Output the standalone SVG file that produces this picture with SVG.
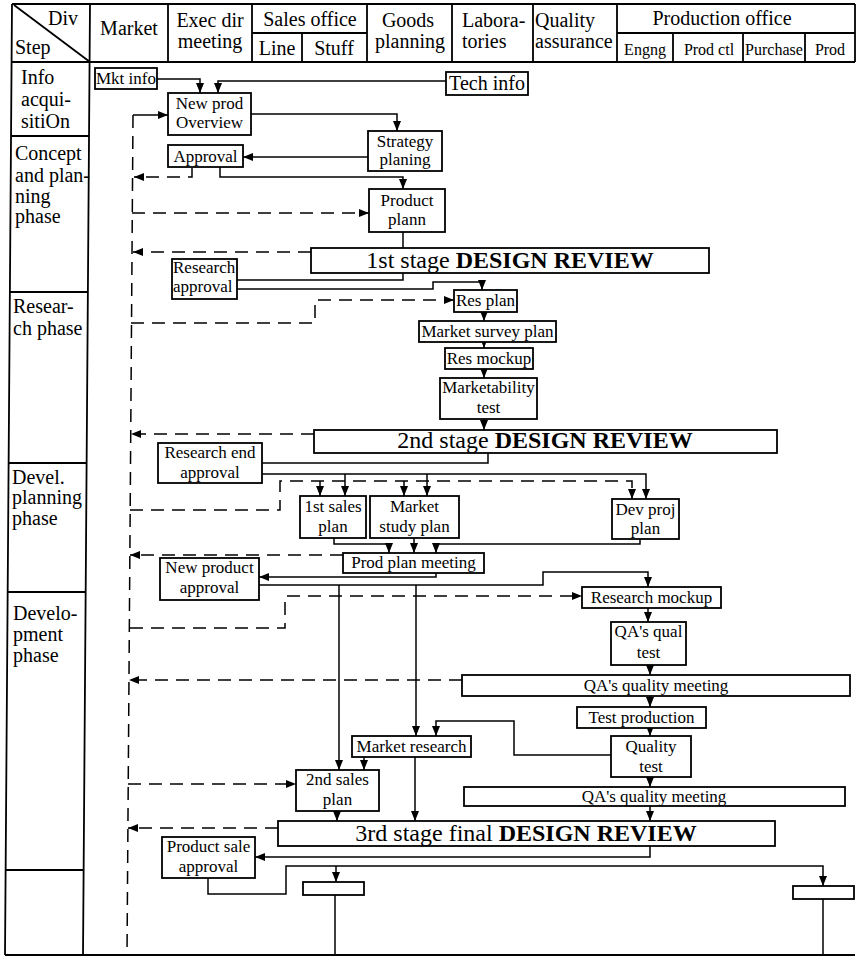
<svg xmlns="http://www.w3.org/2000/svg" width="857" height="959" viewBox="0 0 857 959">
<defs>
<style>
.frame{fill:none;stroke:#000;stroke-width:1.8}
.box{fill:#fff;stroke:#000;stroke-width:1.8}
.ln{fill:none;stroke:#000;stroke-width:1.5}
.ds{fill:none;stroke:#000;stroke-width:1.5;stroke-dasharray:13 8}
text{font-family:"Liberation Serif","Times New Roman",serif;fill:#000}
.h{font-size:20px}
.hs{font-size:16px}
.t{font-size:17px}
.c{text-anchor:middle}
.dr{font-size:24px;text-anchor:middle}
.b{font-weight:bold}
</style>
<marker id="ar" markerUnits="userSpaceOnUse" markerWidth="10" markerHeight="8" refX="10" refY="4" orient="auto">
<path d="M0,0 L10,4 L0,8 z" fill="#000"/>
</marker>
</defs>
<rect x="0" y="0" width="857" height="959" fill="#fff"/>

<g id="table">
<path class="frame" d="M12,4 H855 M12,62 H855 M12,4 L5,955 M90,4 L83,955 M5,955 H855 M14,5 L90,62"/>
<path class="frame" d="M168,4 V62 M252,4 V62 M367,4 V62 M452,4 V62 M533,4 V62 M617,4 V62 M855,4 V62 M252,33 H367 M617,33 H855 M302,33 V62 M673,33 V62 M743,33 V62 M805,33 V62"/>
<path class="frame" d="M11,136 H89 M9.9,292 H87.9 M8.6,463 H86.6 M7.7,592 H85.7 M5.6,870 H83.6"/>
<text class="h" x="48" y="25">Div</text>
<text class="h" x="15" y="54">Step</text>
<text class="h c" x="129" y="35">Market</text>
<text class="h c" x="210" y="27">Exec dir</text>
<text class="h c" x="210" y="48">meeting</text>
<text class="h c" x="310" y="26">Sales office</text>
<text class="h c" x="277" y="55">Line</text>
<text class="h c" x="334" y="55">Stuff</text>
<text class="h c" x="408" y="27">Goods</text>
<text class="h c" x="410" y="48">planning</text>
<text class="h" x="462" y="27">Labora-</text>
<text class="h" x="462" y="48">tories</text>
<text class="h" x="535" y="27">Quality</text>
<text class="h" x="535" y="48">assurance</text>
<text class="h c" x="722" y="25">Production office</text>
<text class="hs c" x="645" y="55">Engng</text>
<text class="hs c" x="709" y="55">Prod ctl</text>
<text class="hs c" x="774" y="55">Purchase</text>
<text class="hs c" x="830" y="55">Prod</text>
<text class="h" x="21" y="84">Info</text>
<text class="h" x="21" y="106">acqui-</text>
<text class="h" x="21" y="128">sitiOn</text>
<text class="h" x="15" y="160">Concept</text>
<text class="h" x="15" y="182">and plan-</text>
<text class="h" x="15" y="203">ning</text>
<text class="h" x="15" y="223">phase</text>
<text class="h" x="13" y="313">Resear-</text>
<text class="h" x="13" y="335">ch phase</text>
<text class="h" x="12" y="484">Devel.</text>
<text class="h" x="12" y="504">planning</text>
<text class="h" x="12" y="525">phase</text>
<text class="h" x="13" y="620">Develo-</text>
<text class="h" x="13" y="641">pment</text>
<text class="h" x="13" y="662">phase</text>
</g>

<g id="connectors">
<path class="ds" d="M133,115 L127,955"/>
<path class="ln" marker-end="url(#ar)" d="M157,79 H200 V93"/>
<path class="ln" marker-end="url(#ar)" d="M446,81 H218 V93"/>
<path class="ln" marker-end="url(#ar)" d="M251,114 H397 V131"/>
<path class="ln" marker-end="url(#ar)" d="M368,157 H243"/>
<path class="ln" marker-end="url(#ar)" d="M220,167 V177 H403 V189"/>
<path class="ln" d="M403,232 V248"/>
<path class="ln" marker-end="url(#ar)" d="M133,115 H168"/>
<path class="ln" d="M403,273 V280 H237"/>
<path class="ln" marker-end="url(#ar)" d="M237,289 H433 V282 H482 V290"/>
<path class="ln" marker-end="url(#ar)" d="M484,312 V321"/>
<path class="ln" marker-end="url(#ar)" d="M484,342 V348"/>
<path class="ln" marker-end="url(#ar)" d="M484,369 V378"/>
<path class="ln" marker-end="url(#ar)" d="M484,419 V430"/>
<path class="ln" d="M488,453 V463 H262"/>
<path class="ln" marker-end="url(#ar)" d="M262,474 H646 V499"/>
<path class="ln" marker-end="url(#ar)" d="M345,474 V496"/>
<path class="ln" marker-end="url(#ar)" d="M427,474 V496"/>
<path class="ln" marker-end="url(#ar)" d="M334,538 V544 H389 V553"/>
<path class="ln" marker-end="url(#ar)" d="M414,538 V553"/>
<path class="ln" marker-end="url(#ar)" d="M640,539 V544 H436 V553"/>
<path class="ln" marker-end="url(#ar)" d="M436,573 V577 H259"/>
<path class="ln" marker-end="url(#ar)" d="M259,585 H543 V572 H648 V587"/>
<path class="ln" marker-end="url(#ar)" d="M339,585 V770"/>
<path class="ln" marker-end="url(#ar)" d="M416,585 V736"/>
<path class="ln" marker-end="url(#ar)" d="M648,608 V622"/>
<path class="ln" marker-end="url(#ar)" d="M650,665 V675"/>
<path class="ln" marker-end="url(#ar)" d="M650,696 V707"/>
<path class="ln" marker-end="url(#ar)" d="M650,728 V736"/>
<path class="ln" marker-end="url(#ar)" d="M611,755 H514 V721 H436 V736"/>
<path class="ln" marker-end="url(#ar)" d="M364,757 V770"/>
<path class="ln" marker-end="url(#ar)" d="M415,757 V821"/>
<path class="ln" marker-end="url(#ar)" d="M650,777 V787"/>
<path class="ln" marker-end="url(#ar)" d="M650,806 V821"/>
<path class="ln" marker-end="url(#ar)" d="M337,811 V821"/>
<path class="ln" marker-end="url(#ar)" d="M650,846 V857 H255"/>
<path class="ln" marker-end="url(#ar)" d="M208,878 V894 H286 V866 H823 V886"/>
<path class="ln" marker-end="url(#ar)" d="M336,866 V882"/>
<path class="ln" d="M335,895 V955 M823,899 V955"/>
<path class="ds" marker-end="url(#ar)" d="M192,168 V177 H134"/>
<path class="ds" marker-end="url(#ar)" d="M132,213 H369"/>
<path class="ds" marker-end="url(#ar)" d="M311,252 H133"/>
<path class="ds" marker-end="url(#ar)" d="M131,323 H315 V300 H454"/>
<path class="ds" marker-end="url(#ar)" d="M314,434 H131"/>
<path class="ds" marker-end="url(#ar)" d="M130,510 H280 V481 H632 V499"/>
<path class="ln" marker-end="url(#ar)" d="M320,481 V496"/>
<path class="ln" marker-end="url(#ar)" d="M404,481 V496"/>
<path class="ds" marker-end="url(#ar)" d="M343,555 H130"/>
<path class="ds" marker-end="url(#ar)" d="M130,628 H285 V596 H582"/>
<path class="ds" marker-end="url(#ar)" d="M462,680 H129"/>
<path class="ds" marker-end="url(#ar)" d="M128,784 H296"/>
<path class="ds" marker-end="url(#ar)" d="M278,828 H128"/>
</g>

<g id="mkt-info"><rect class="box" x="95" y="68" width="62" height="21"/><text class="t c" x="126" y="84">Mkt info</text></g>
<g id="tech-info"><rect class="box" x="446" y="72" width="82" height="23"/><text class="h c" x="487" y="90">Tech info</text></g>
<g id="new-prod-overview"><rect class="box" x="168" y="93" width="83" height="42"/><text class="t c" x="209.5" y="109">New prod</text><text class="t c" x="209.5" y="128">Overview</text></g>
<g id="strategy-planing"><rect class="box" x="368" y="131" width="74" height="40"/><text class="t c" x="405" y="147">Strategy</text><text class="t c" x="405" y="165">planing</text></g>
<g id="approval"><rect class="box" x="168" y="145" width="75" height="22"/><text class="t c" x="205.5" y="162">Approval</text></g>
<g id="product-plann"><rect class="box" x="369" y="189" width="76" height="43"/><text class="t c" x="407" y="206">Product</text><text class="t c" x="407" y="225">plann</text></g>
<g id="dr1"><rect class="box" x="311" y="248" width="398" height="25"/><text class="dr" x="510" y="268">1st stage <tspan class="b">DESIGN REVIEW</tspan></text></g>
<g id="research-approval"><rect class="box" x="172" y="259" width="65" height="40"/><text class="t" x="173" y="273">Research</text><text class="t" x="173" y="292">approval</text></g>
<g id="res-plan"><rect class="box" x="454" y="290" width="63" height="22"/><text class="t c" x="485.5" y="306">Res plan</text></g>
<g id="market-survey-plan"><rect class="box" x="419" y="321" width="137" height="21"/><text class="t c" x="487.5" y="337">Market survey plan</text></g>
<g id="res-mockup"><rect class="box" x="445" y="348" width="88" height="21"/><text class="t c" x="489" y="364">Res mockup</text></g>
<g id="marketability-test"><rect class="box" x="440" y="378" width="97" height="41"/><text class="t c" x="488.5" y="393">Marketability</text><text class="t c" x="488.5" y="413">test</text></g>
<g id="dr2"><rect class="box" x="314" y="430" width="463" height="23"/><text class="dr" x="545" y="448">2nd stage <tspan class="b">DESIGN REVIEW</tspan></text></g>
<g id="research-end-approval"><rect class="box" x="158" y="443" width="104" height="40"/><text class="t c" x="210" y="458">Research end</text><text class="t c" x="210" y="478">approval</text></g>
<g id="first-sales-plan"><rect class="box" x="300" y="496" width="66" height="42"/><text class="t c" x="333" y="512">1st sales</text><text class="t c" x="333" y="532">plan</text></g>
<g id="market-study-plan"><rect class="box" x="370" y="496" width="89" height="42"/><text class="t c" x="414.5" y="512">Market</text><text class="t c" x="414.5" y="532">study plan</text></g>
<g id="dev-proj-plan"><rect class="box" x="612" y="499" width="67" height="40"/><text class="t c" x="645.5" y="515">Dev proj</text><text class="t c" x="645.5" y="534">plan</text></g>
<g id="prod-plan-meeting"><rect class="box" x="343" y="553" width="141" height="20"/><text class="t c" x="413.5" y="568">Prod plan meeting</text></g>
<g id="new-product-approval"><rect class="box" x="160" y="558" width="99" height="42"/><text class="t c" x="209.5" y="573">New product</text><text class="t c" x="209.5" y="593">approval</text></g>
<g id="research-mockup"><rect class="box" x="582" y="587" width="139" height="21"/><text class="t c" x="651.5" y="603">Research mockup</text></g>
<g id="qa-qual-test"><rect class="box" x="611" y="622" width="75" height="43"/><text class="t c" x="648.5" y="637">QA's qual</text><text class="t c" x="648.5" y="658">test</text></g>
<g id="qa-meeting-1"><rect class="box" x="462" y="675" width="388" height="21"/><text class="t c" x="656" y="691">QA's quality meeting</text></g>
<g id="test-production"><rect class="box" x="577" y="707" width="129" height="21"/><text class="t c" x="641.5" y="723">Test production</text></g>
<g id="quality-test"><rect class="box" x="611" y="736" width="80" height="41"/><text class="t c" x="651" y="752">Quality</text><text class="t c" x="651" y="772">test</text></g>
<g id="market-research"><rect class="box" x="352" y="736" width="119" height="21"/><text class="t c" x="411.5" y="752">Market research</text></g>
<g id="second-sales-plan"><rect class="box" x="296" y="770" width="83" height="41"/><text class="t c" x="337.5" y="785">2nd sales</text><text class="t c" x="337.5" y="805">plan</text></g>
<g id="qa-meeting-2"><rect class="box" x="464" y="787" width="381" height="19"/><text class="t c" x="654" y="802">QA's quality meeting</text></g>
<g id="dr3"><rect class="box" x="278" y="821" width="497" height="25"/><text class="dr" x="526" y="841">3rd stage final <tspan class="b">DESIGN REVIEW</tspan></text></g>
<g id="product-sale-approval"><rect class="box" x="162" y="837" width="93" height="41"/><text class="t c" x="208.5" y="852">Product sale</text><text class="t c" x="208.5" y="872">approval</text></g>
<g id="blank-1"><rect class="box" x="303" y="882" width="61" height="13"/></g>
<g id="blank-2"><rect class="box" x="793" y="886" width="61" height="13"/></g>
</svg>
